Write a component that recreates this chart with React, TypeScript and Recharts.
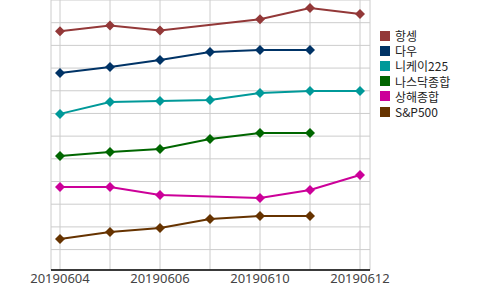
import React from 'react';
import { LineChart, Line, XAxis, YAxis, CartesianGrid } from 'recharts';

const dates = ['20190604', '20190605', '20190606', '20190607', '20190610', '20190611', '20190612'];
const hangseng = [10.62, 10.88, 10.66, null, 11.15, 11.65, 11.38];
const dow = [8.78, 9.05, 9.36, 9.71, 9.8, 9.8, null];
const nikkei = [6.98, 7.5, 7.55, 7.59, 7.9, 7.99, 7.99];
const nasdaq = [5.12, 5.3, 5.43, 5.87, 6.14, 6.14, null];
const shanghai = [3.76, 3.76, 3.41, null, 3.27, 3.63, 4.29];
const sp500 = [1.47, 1.77, 1.95, 2.35, 2.48, 2.48, null];
const yTicks = [1, 2, 3, 4, 5, 6, 7, 8, 9, 10, 11];

const seriesList = [
  { key: '항셍', values: hangseng, color: '#933838' },
  { key: '다우', values: dow, color: '#003366' },
  { key: '니케이225', values: nikkei, color: '#009999' },
  { key: '나스닥종합', values: nasdaq, color: '#006600' },
  { key: '상해종합', values: shanghai, color: '#cc0099' },
  { key: 'S&P500', values: sp500, color: '#663300' },
];

const data = dates.map((d, i) => {
  const row: Record<string, string | number | null> = { date: d };
  seriesList.forEach((s) => {
    row[s.key] = s.values[i];
  });
  return row;
});

const Diamond = (props: any) => {
  const { cx, cy, fill, key, value } = props;
  if (cx == null || cy == null || value == null) return <g key={key} />;
  const r = 5;
  return (
    <polygon
      key={key}
      points={`${cx},${cy - r} ${cx + r},${cy} ${cx},${cy + r} ${cx - r},${cy}`}
      fill={fill}
    />
  );
};

const LegendBox = () => (
  <div
    style={{
      position: 'absolute',
      left: 380,
      top: 28,
      fontFamily: '"Noto Sans CJK KR", sans-serif',
      fontSize: 12,
      color: '#222',
    }}
  >
    {seriesList.map((s) => (
      <div key={s.key} style={{ display: 'flex', alignItems: 'center', height: 15.2 }}>
        <span style={{ width: 10, height: 10, background: s.color, marginRight: 5, display: 'inline-block' }} />
        <span style={{ lineHeight: '15px' }}>{s.key}</span>
      </div>
    ))}
  </div>
);

export default function App() {
  return (
    <div style={{ position: 'absolute', left: 0, top: 0, width: 500, height: 290, background: '#fff' }}>
      <LineChart
        width={500}
        height={290}
        data={data}
        margin={{ top: 0, right: 130, left: 51, bottom: 0 }}
        style={{ fontFamily: '"Noto Sans", sans-serif' }}
      >
        <CartesianGrid stroke="#cccccc" strokeWidth={1} />
        <XAxis
          dataKey="date"
          height={20}
          padding={{ left: 9, right: 10 }}
          tickLine={false}
          tickSize={2}
          interval={0}
          tickFormatter={(v: string, i: number) => (i % 2 === 0 ? v : '')}
          tick={{ fill: '#444', fontSize: 13 }}
          axisLine={{ stroke: '#000', strokeWidth: 1.5 }}
        />
        <YAxis
          width={0}
          domain={[0.1, 12]}
          ticks={yTicks}
          tickFormatter={() => ''}
          tickLine={false}
          axisLine={{ stroke: '#000', strokeWidth: 1.5 }}
        />
        {seriesList.map((s) => (
          <Line
            key={s.key}
            dataKey={s.key}
            stroke={s.color}
            strokeWidth={2}
            connectNulls
            isAnimationActive={false}
            dot={(p: any) => <Diamond {...p} fill={s.color} />}
            activeDot={false}
          />
        ))}
      </LineChart>
      <LegendBox />
    </div>
  );
}
